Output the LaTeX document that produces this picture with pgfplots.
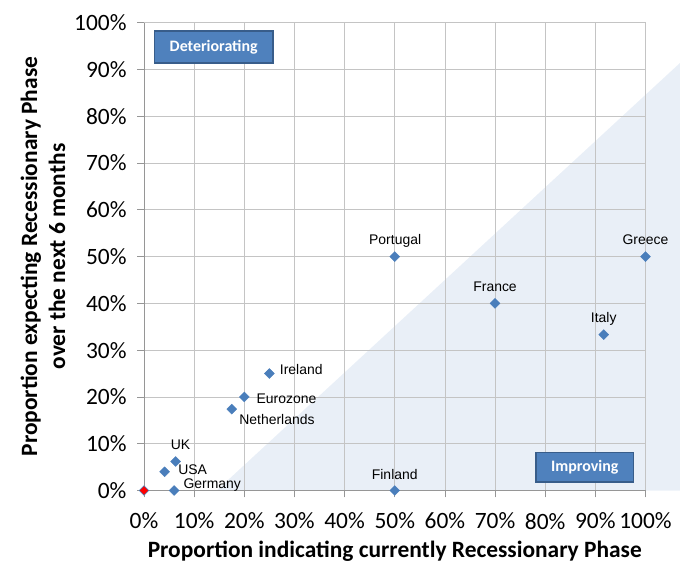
\documentclass[border=0pt]{standalone}
\usepackage{fontspec}
\setmainfont{Carlito}
\newfontfamily\arialf{Liberation Sans}
\usepackage{pgfplots}
\usepackage{pgfplotstable}
\pgfplotsset{compat=1.18}
\definecolor{mkblue}{RGB}{74,126,187}
\definecolor{boxblue}{RGB}{79,129,189}
\definecolor{boxedge}{RGB}{56,93,138}
\definecolor{shade}{RGB}{233,239,247}
\definecolor{gridc}{RGB}{196,196,196}
\definecolor{axc}{RGB}{150,150,150}
\pgfplotstableread{
x y label dx dy
0.5 0.5 Portugal 0.4 11.6
1.0 0.5 Greece 0 11.6
0.7 0.4 France 0 11.7
0.9167 0.3333 Italy 0 11.9
0.5 0 Finland 0 11.5
0.25 0.25 Ireland 31.9 -1.2
0.2 0.2 Eurozone 42.2 -6.4
0.175 0.174 Netherlands 45.2 -15.3
0.063 0.062 UK 4.9 11.7
0.041 0.040 USA 28.1 -2.7
0.06 0 Germany 38.2 2.2
}\pts
\begin{document}
\begin{tikzpicture}
\begin{axis}[
  at={(0,0)}, anchor=south west,
  scale only axis, width=501.5bp, height=467.8bp,
  xmin=0, xmax=1, ymin=0, ymax=1,
  set layers, clip=false,
  axis x line*=bottom, axis y line*=left,
  axis line style={draw=axc, line width=0.8bp, -},
  grid=major, major grid style={draw=gridc, line width=0.8bp},
  xtick={0,0.1,0.2,0.3,0.4,0.5,0.6,0.7,0.8,0.9,1},
  ytick={0,0.1,0.2,0.3,0.4,0.5,0.6,0.7,0.8,0.9,1},
  xticklabels={0\%,10\%,20\%,30\%,40\%,50\%,60\%,70\%,80\%,90\%,100\%},
  yticklabels={0\%,10\%,20\%,30\%,40\%,50\%,60\%,70\%,80\%,90\%,100\%},
  tick align=outside, major tick length=7bp,
  tick style={draw=axc, line width=0.8bp},
  ticklabel style={font=\fontsize{23.5}{28}\selectfont, text=black},
  xticklabel style={yshift=-12bp},
  yticklabel style={xshift=-7bp},
  xlabel={Proportion indicating currently Recessionary Phase},
  ylabel={Proportion expecting Recessionary Phase\\over the next 6 months},
  label style={font=\bfseries\fontsize{23.5}{28}\selectfont, text=black},
  xlabel style={at={(axis description cs:0.5,-0.14365)}, anchor=base},
  ylabel style={at={(axis description cs:-0.1575,0.5)}, anchor=base, align=center},
]
\addplot[draw=none, fill=shade, on layer=axis background] coordinates {(0.145,0) (1.08,0.925) (1.08,0)} \closedcycle;
\addplot[only marks, mark=square*, mark size=3.5bp,
  mark options={rotate=45, fill=mkblue, draw=mkblue},
  nodes near coords, point meta=explicit symbolic,
  visualization depends on={\thisrow{dx}\as\ldx},
  visualization depends on={\thisrow{dy}\as\ldy},
  nodes near coords style={anchor=base, xshift=\ldx*1bp, yshift=\ldy*1bp,
    font=\arialf\fontsize{14}{16}\selectfont, text=black, inner sep=0pt},
] table[x=x, y=y, meta=label] {\pts};
\addplot[only marks, mark=square*, mark size=3.5bp,
  mark options={rotate=45, fill=mkblue, draw=mkblue}] coordinates {(0,0)};
\addplot[only marks, mark=square*, mark size=2.8bp,
  mark options={rotate=45, fill=red, draw=red}] coordinates {(0,0)};
\node[fill=boxblue, draw=boxedge, line width=1.5bp, minimum width=118.3bp,
  minimum height=31.9bp, inner sep=0pt, text=white,
  font=\bfseries\fontsize{16}{19}\selectfont] at (axis cs:0.139,0.948) {Deteriorating};
\node[fill=boxblue, draw=boxedge, line width=1.5bp, minimum width=97.5bp,
  minimum height=29.8bp, inner sep=0pt, text=white,
  font=\bfseries\fontsize{16}{19}\selectfont] at (axis cs:0.879,0.0495) {Improving};
\end{axis}
\pgfresetboundingbox
\path[use as bounding box] (-144bp,-78.5bp) rectangle (536bp,490.5bp);
\end{tikzpicture}
\end{document}
